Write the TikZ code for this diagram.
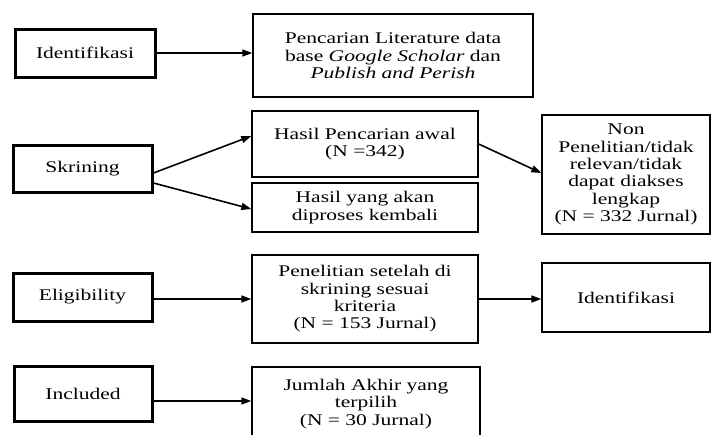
\documentclass[tikz,border=0pt]{standalone}
\usepackage{fontspec}
\setmainfont{Liberation Serif}[FakeStretch=1.32]
\usetikzlibrary{arrows.meta,calc}
\tikzset{
  txt/.style={font=\fontsize{16.3}{17.3}\selectfont, align=center, inner sep=0pt},
  stage/.style={txt, draw, line width=3pt},
  info/.style={txt, draw, line width=1.4pt},
  arr/.style={line width=1.6pt, -{Triangle[length=10pt,width=7pt]}}
}
\begin{document}
\begin{tikzpicture}[x=1pt,y=-1pt]
\useasboundingbox (0,0) rectangle (711,434);
% left stage boxes
\node[stage, minimum width=140pt, minimum height=48pt] (id) at (85,53) {Identifikasi};
\node[stage, minimum width=139pt, minimum height=47pt] (skr) at (82.5,168.5) {Skrining};
\node[stage, minimum width=139pt, minimum height=48pt] (eli) at (82.5,297) {Eligibility};
\node[stage, minimum width=138pt, minimum height=55pt] (inc) at (83,393.5) {Included};
% middle boxes
\node[info, minimum width=280pt, minimum height=83pt] (lit) at (393,55.5) {Pencarian Literature data\\ base \textit{Google Scholar} dan\\ \textit{Publish and Perish}};
\node[info, minimum width=226pt, minimum height=66pt] (awal) at (365,144) {Hasil Pencarian awal\\ (N =342)};
\node[info, minimum width=226pt, minimum height=49pt] (proses) at (365,207.5) {Hasil yang akan\\ diproses kembali};
\node[info, minimum width=226pt, minimum height=88pt] (pen) at (365,299) {Penelitian setelah di\\ skrining sesuai\\ kriteria\\ (N = 153 Jurnal)};
\node[info, minimum width=228pt, minimum height=80pt] (jml) at (366,407) {};
\node[txt, anchor=north] (jmltxt) at (366,379) {Jumlah Akhir yang\\ terpilih\\ (N = 30 Jurnal)};
% right boxes
\node[info, minimum width=168pt, minimum height=119pt] (non) at (626,174.5) {Non\\ Penelitian/tidak\\ relevan/tidak\\ dapat diakses\\ lengkap\\ (N = 332 Jurnal)};
\node[info, minimum width=168pt, minimum height=69pt] (idr) at (626,297.5) {Identifikasi};
% arrows
\draw[arr] (id.east) -- (id.east -| lit.west);
\draw[arr] ([yshift=-4.5pt]skr.east) -- ([yshift=8pt]awal.west);
\draw[arr] ([yshift=-14.5pt]skr.east) -- ([yshift=-1.5pt]proses.west);
\draw[arr] (awal.east) -- ([yshift=1.5pt]non.west);
\draw[arr] ([yshift=-2pt]eli.east) -- (pen.west);
\draw[arr] (pen.east) -- (pen.east -| idr.west);
\draw[arr] ([yshift=-7.5pt]inc.east) -- ([yshift=-7.5pt]inc.east -| jml.west);
\end{tikzpicture}
\end{document}
